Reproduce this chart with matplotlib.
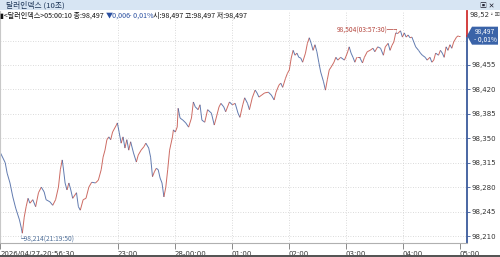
import matplotlib
matplotlib.use("Agg")
import matplotlib.pyplot as plt
from matplotlib.collections import LineCollection
from matplotlib.patches import Rectangle, Polygon
import matplotlib.dates as mdates
import matplotlib.transforms as mtransforms
import numpy as np
import pandas as pd

plt.rcParams['font.family'] = ['Noto Sans CJK KR', 'DejaVu Sans']

# 10초봉 종가 (시작 2026/04/27 20:56:30 이후 경과 분)
start = pd.Timestamp('2026-04-27 20:56:30')
minutes = [0, 5, 7, 10, 13, 16, 20, 22, 23, 25, 27, 29, 31, 34, 37, 40, 43, 46, 48, 52,
           55, 58, 61, 63, 65, 66, 68, 70, 72, 74, 76, 80, 82, 84, 87, 90, 93, 96, 100, 103,
           106, 108, 110, 112, 114, 116, 118, 122, 123, 125, 127, 129, 131, 133, 135, 137, 140, 143, 145, 148,
           151, 153, 156, 158, 160, 162, 164, 166, 168, 170, 172, 174, 176, 178, 181, 182, 184, 186, 187, 189,
           192, 195, 198, 201, 203, 205, 208, 210, 212, 215, 218, 222, 225, 227, 230, 232, 235, 237, 241, 244,
           247, 250, 252, 255, 257, 260, 262, 265, 268, 270, 272, 275, 278, 282, 285, 288, 290, 293, 295, 297,
           300, 302, 304, 306, 308, 310, 312, 314, 316, 318, 321, 323, 325, 327, 329, 331, 333, 335, 337, 340,
           342, 344, 346, 348, 351, 353, 355, 358, 362, 365, 367, 369, 371, 373, 375, 378, 381, 383, 386, 389,
           392, 394, 397, 400, 403, 405, 408, 410, 412, 414, 416, 418, 421, 423, 425, 427, 429, 431, 433, 435,
           437, 440, 442, 444, 447, 449, 452, 454, 456, 458, 461, 463, 465, 467, 469, 471, 473, 475, 477, 480,
           482, 484]
prices = [98.329, 98.315, 98.300, 98.286, 98.266, 98.250, 98.233, 98.221, 98.214, 98.237,
          98.252, 98.264, 98.257, 98.262, 98.252, 98.272, 98.280, 98.273, 98.262, 98.259,
          98.254, 98.262, 98.280, 98.305, 98.319, 98.309, 98.286, 98.276, 98.286, 98.276,
          98.264, 98.272, 98.252, 98.247, 98.262, 98.264, 98.280, 98.287, 98.286, 98.290,
          98.305, 98.323, 98.333, 98.348, 98.352, 98.348, 98.359, 98.369, 98.372, 98.358,
          98.343, 98.352, 98.336, 98.348, 98.333, 98.345, 98.329, 98.316, 98.326, 98.333,
          98.338, 98.343, 98.336, 98.323, 98.295, 98.302, 98.307, 98.305, 98.293, 98.286,
          98.266, 98.280, 98.305, 98.333, 98.352, 98.362, 98.359, 98.366, 98.393, 98.379,
          98.376, 98.372, 98.366, 98.379, 98.402, 98.395, 98.391, 98.398, 98.376, 98.373,
          98.391, 98.386, 98.369, 98.379, 98.395, 98.400, 98.395, 98.388, 98.402, 98.398,
          98.400, 98.386, 98.380, 98.398, 98.408, 98.400, 98.391, 98.408, 98.419, 98.415,
          98.409, 98.412, 98.415, 98.416, 98.412, 98.405, 98.416, 98.426, 98.429, 98.423,
          98.436, 98.443, 98.448, 98.465, 98.476, 98.469, 98.472, 98.466, 98.465, 98.459,
          98.472, 98.486, 98.494, 98.486, 98.476, 98.484, 98.474, 98.459, 98.445, 98.431,
          98.419, 98.434, 98.448, 98.452, 98.459, 98.466, 98.462, 98.466, 98.462, 98.472,
          98.481, 98.472, 98.466, 98.459, 98.466, 98.466, 98.458, 98.466, 98.474, 98.476,
          98.479, 98.474, 98.481, 98.479, 98.469, 98.481, 98.486, 98.476, 98.483, 98.488,
          98.501, 98.500, 98.504, 98.495, 98.501, 98.495, 98.498, 98.494, 98.495, 98.488,
          98.481, 98.476, 98.472, 98.469, 98.466, 98.462, 98.466, 98.459, 98.462, 98.472,
          98.469, 98.476, 98.472, 98.466, 98.481, 98.476, 98.484, 98.479, 98.488, 98.495,
          98.497, 98.497]

y_ticks = [98.210, 98.245, 98.280, 98.315, 98.350, 98.385, 98.420, 98.455, 98.490]
x_tick_times = ['2026-04-27 23:00', '2026-04-28 00:00', '2026-04-28 01:00', '2026-04-28 02:00',
                '2026-04-28 03:00', '2026-04-28 04:00', '2026-04-28 05:00']
x_tick_labels = ['23:00', '28-00:00', '01:00', '02:00', '03:00', '04:00', '05:00']

last = prices[-1]
W, H = 500, 257
RED = '#c0463c'
BLUE = '#3a5a9c'
NARROW = ['Liberation Sans Narrow', 'DejaVu Sans']

t = start + pd.to_timedelta(minutes, unit='m')
tn = mdates.date2num(t.to_pydatetime())

fig = plt.figure(figsize=(W / 100, H / 100), dpi=100)
fig.patch.set_facecolor('white')

def fx(x):
    return x / W

def fy(y):
    return 1 - y / H

# 제목줄
fig.patches.append(Rectangle((0, fy(10)), 1, 10 / H, transform=fig.transFigure,
                             facecolor='#d7e5f3', edgecolor='none', zorder=0))
fig.text(fx(6), fy(5), '달러인덱스 (10초)', fontsize=5.6, color='#1d3557', va='center')
fig.text(fx(480), fy(5), '▣ ✕', fontsize=5, color='#223', va='center', weight='bold')

ax = fig.add_axes([0, fy(243), fx(467), (243 - 11) / H])
ax.set_facecolor('white')

ymin = 98.210 - 7 * 0.0014327
ymax = 98.210 + 225 * 0.0014327
xmin = mdates.date2num((start - pd.Timedelta(seconds=30)).to_pydatetime())
xmax = mdates.date2num((start + pd.Timedelta(minutes=491)).to_pydatetime())
ax.set_xlim(xmin, xmax)
ax.set_ylim(ymin, ymax)

# 상승/하락 색 구분 선
pts = np.column_stack([tn, prices])
segs = np.stack([pts[:-1], pts[1:]], axis=1)
cols = [RED if prices[i + 1] >= prices[i] else BLUE for i in range(len(prices) - 1)]
ax.add_collection(LineCollection(segs, colors=cols, linewidths=0.7, alpha=0.8))

# 그리드
tick_nums = [mdates.date2num(pd.Timestamp(s).to_pydatetime()) for s in x_tick_times]
for v in y_ticks:
    ax.axhline(v, color='#cfcfcf', lw=0.6, ls=(0, (1, 2)), zorder=0)
for v in tick_nums[:-1]:
    ax.axvline(v, color='#cfcfcf', lw=0.6, ls=(0, (1, 2)), zorder=0)

ax.yaxis.tick_right()
ax.set_yticks(y_ticks[:-1])
ax.set_yticklabels([f'{v:.3f}'.replace('.', ',') for v in y_ticks[:-1]],
                   fontsize=5, color='#333333', family=NARROW)
ax.tick_params(axis='y', length=2, width=0.6, color=BLUE, pad=1)

ax.set_xticks([xmin + 0.0001] + tick_nums)
ax.set_xticklabels(['2026/04/27-20:56:30'] + x_tick_labels, fontsize=5, color='#333333',
                   ha='left', family=NARROW)
ax.tick_params(axis='x', length=4, width=0.6, color='#777777', pad=1.5)

ax.spines['top'].set_visible(False)
ax.spines['left'].set_color('#c8c8c8')
ax.spines['bottom'].set_color('#b0b0b0')
ax.spines['right'].set_visible(False)

# 우측 축선 (현재가 위 빨강, 아래 파랑)
trans = mtransforms.blended_transform_factory(ax.transAxes, ax.transData)
ax.plot([1, 1], [ymin, last], transform=trans, color=BLUE, lw=1.3, clip_on=False)
ax.plot([1, 1], [last, ymax], transform=trans, color='#d03030', lw=1.3, clip_on=False)

# 정보줄
info_y = fy(16)
fig.text(fx(0), info_y, '▮<달러인덱스>05:00:10 종:98,497', fontsize=5.1, color='#111111', va='center')
fig.text(fx(106), info_y, '▼0,006', fontsize=5.1, color='#2a4fa0', va='center')
fig.text(fx(129), info_y, '- 0,01%', fontsize=5.1, color='#2a4fa0', va='center')
fig.text(fx(153), info_y, '시:98,497 고:98,497 저:98,497', fontsize=5.1, color='#111111', va='center')

# 최고/최저 표시
i_max = int(np.argmax(prices))
i_min = int(np.argmin(prices))
ax.annotate('98,504(03:57:30)─┐', (tn[i_max], prices[i_max]), xytext=(0, 0),
            textcoords='offset points', ha='right', va='center', fontsize=4.8, color='#b5463e')
ax.annotate('└98,214(21:19:50)', (tn[i_min], prices[i_min]), xytext=(-3, -4),
            textcoords='offset points', ha='left', va='center', fontsize=4.8, color='#50709a')

# 상단 값 / 현재가 박스
fig.text(fx(470), fy(15), '98,52', fontsize=5, color='#333333', va='center', family=NARROW)
fig.text(fx(489), fy(15), '▫▣', fontsize=4, color='#555555', va='center')

cy = ax.transData.transform((0, last))[1] / fig.dpi / (H / 100)
h = 9 / H
box = Polygon([(fx(467), cy), (fx(472), cy + h), (fx(498), cy + h), (fx(498), cy - h), (fx(472), cy - h)],
              closed=True, transform=fig.transFigure, facecolor='#3a63a8', edgecolor='none', zorder=5)
fig.patches.append(box)
fig.text(fx(485), cy + 4 / H, '98,497', fontsize=4.8, color='white', ha='center', va='center', zorder=6)
fig.text(fx(485), cy - 4 / H, '- 0,01%', fontsize=4.8, color='white', ha='center', va='center', zorder=6)

# 하단 띠
fig.patches.append(Rectangle((0, 0), 1, 2 / H, transform=fig.transFigure,
                             facecolor='#555555', edgecolor='none'))

fig.savefig('out.png', dpi=100)
